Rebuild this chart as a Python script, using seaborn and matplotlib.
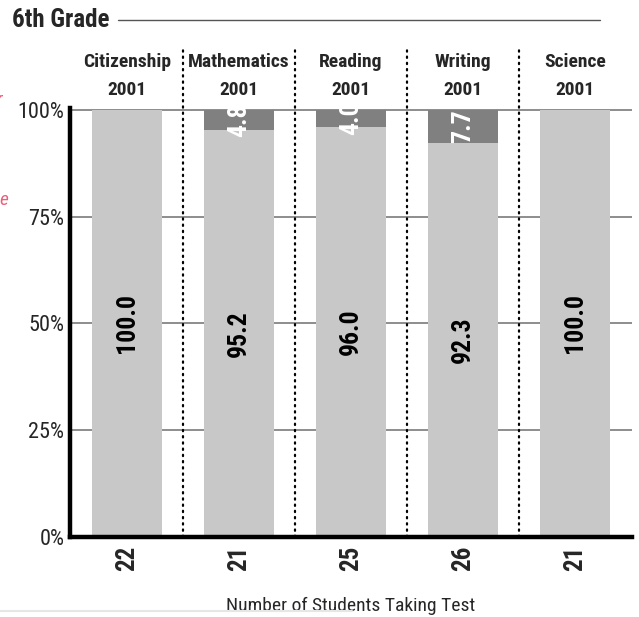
import numpy as np
import pandas as pd
import seaborn as sns
import matplotlib.pyplot as plt
from matplotlib.lines import Line2D

subjects = ['Citizenship', 'Mathematics', 'Reading', 'Writing', 'Science']
years = ['2001', '2001', '2001', '2001', '2001']
pass_pct = [100.0, 95.2, 96.0, 92.3, 100.0]
fail_pct = [0.0, 4.8, 4.0, 7.7, 0.0]
n_students = [22, 21, 25, 26, 21]

sns.set_theme(style='white')
plt.rcParams['font.family'] = ['Roboto Condensed', 'DejaVu Sans']

df = pd.DataFrame({'subject': subjects, 'pass': pass_pct, 'fail': fail_pct})
df['total'] = df['pass'] + df['fail']

light = '#c8c8c8'
dark = '#808080'

fig = plt.figure(figsize=(6.39, 6.17), dpi=100)
ax = fig.add_axes([70 / 639, 1 - 537 / 617, 562 / 639, 429 / 617])

for y in [25, 50, 75, 100]:
    ax.axhline(y, color='#7a7a7a', lw=1.2, zorder=0)

sns.barplot(data=df, x='subject', y='total', color=dark, width=0.625,
            saturation=1, linewidth=0, ax=ax, zorder=2)
sns.barplot(data=df, x='subject', y='pass', color=light, width=0.625,
            saturation=1, linewidth=0, ax=ax, zorder=3)

ax.set_xlim(-0.51, 4.51)
ax.set_ylim(0, 100.4)

for i in range(len(subjects)):
    p, f = pass_pct[i], fail_pct[i]
    ax.text(i, p / 2, f'{p:.1f}', rotation=90, ha='center', va='center',
            fontsize=18.5, fontweight='bold', color='black', zorder=5)
    if f > 0:
        ax.text(i, p + f / 2, f'{f:.1f}', rotation=90, ha='center', va='center',
                fontsize=18.5, fontweight='bold', color='white', zorder=5)
    ax.text(i, 111.2, subjects[i], ha='center', va='center', fontsize=14,
            fontweight='bold', clip_on=False)
    ax.text(i, 104.7, years[i], ha='center', va='center', fontsize=14,
            fontweight='bold', clip_on=False)

# dotted separators between subjects
for xs in [0.5, 1.5, 2.5, 3.5]:
    ax.plot([xs, xs], [0, 114.5], color='black', lw=1.6,
            linestyle=(0, (0.6, 2.2)), dash_capstyle='round', clip_on=False, zorder=1)

sns.despine(ax=ax, top=True, right=True)
for side in ['left', 'bottom']:
    ax.spines[side].set_linewidth(3.2)
    ax.spines[side].set_color('black')
    ax.spines[side].set_zorder(6)

ax.set_yticks([0, 25, 50, 75, 100])
ax.set_yticklabels(['0%', '25%', '50%', '75%', '100%'], fontsize=16)
ax.set_xticks(range(len(subjects)))
ax.set_xticklabels([str(n) for n in n_students], rotation=90, fontsize=18,
                   fontweight='bold')
ax.tick_params(axis='both', length=0)
ax.tick_params(axis='y', pad=4)
ax.tick_params(axis='x', pad=6)
ax.set_xlabel('Number of Students Taking Test', fontsize=14, labelpad=19)
ax.set_ylabel('')

fig.text(12 / 639, 1 - 20 / 617, '6th Grade', fontsize=18, fontweight='bold',
         ha='left', va='center')
fig.add_artist(Line2D([118 / 639, 600 / 639], [1 - 20 / 617, 1 - 20 / 617],
                      color='#555555', lw=1))
fig.add_artist(Line2D([0, 352 / 639], [1 - 611 / 617, 1 - 611 / 617],
                      color='#e6e6e6', lw=1.5))

# clipped labels from neighbouring panel
fig.text(8 / 639, 1 - 200 / 617, 'e', fontsize=14, style='italic',
         color='#e8607a', ha='right', va='center')
fig.text(3 / 639, 1 - 100 / 617, 'r', fontsize=14, style='italic',
         color='#e8607a', ha='right', va='center')

fig.savefig('out.png', dpi=100)
